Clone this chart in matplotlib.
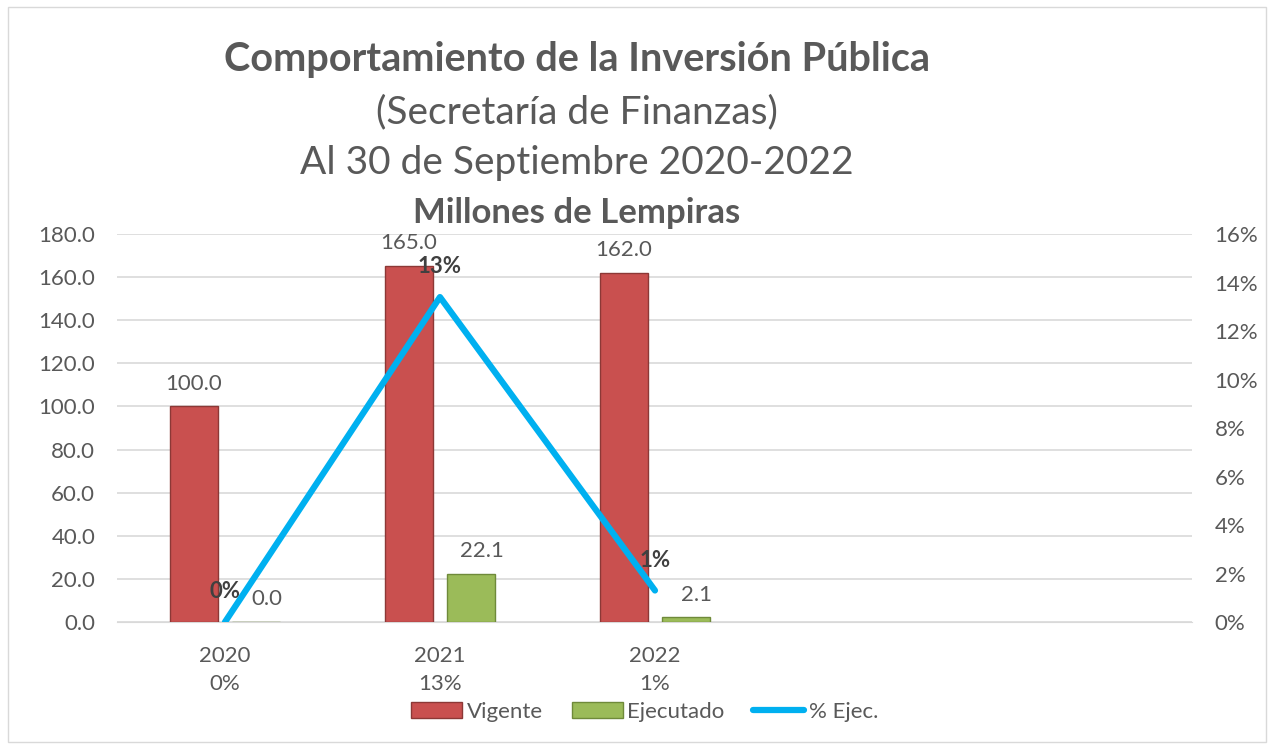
import matplotlib.pyplot as plt
import numpy as np
from matplotlib.patches import Rectangle

plt.rcParams['font.family'] = ['Lato', 'DejaVu Sans']

categories = ['2020', '2021', '2022', '', '']
pct_labels = ['0%', '13%', '1%', '', '']
vigente = [100.0, 165.0, 162.0]
ejecutado = [0.0, 22.1, 2.1]
pct_ejec = [0.0, 13.4, 1.3]

grey = '#595959'
red = '#C9504F'
green = '#9BBB59'
blue = '#00B0F0'

fig = plt.figure(figsize=(12.74, 7.46), dpi=100)
fig.patches.append(Rectangle((0.006, 0.006), 0.988, 0.985, transform=fig.transFigure,
                             fill=False, edgecolor='#d9d9d9', linewidth=1))

ax = fig.add_axes([0.0922, 0.1662, 0.8438, 0.5201])
ax2 = ax.twinx()

x = np.arange(len(vigente))
w = 0.223
off = 0.144
b1 = ax.bar(x - off, vigente, w, color=red, edgecolor='#8C3836', linewidth=1, label='Vigente', zorder=3)
b2 = ax.bar(x + off, ejecutado, w, color=green, edgecolor='#6F8A3A', linewidth=1, label='Ejecutado', zorder=3)

for xi, v in zip(x, vigente):
    ax.text(xi - off, v + 6, f'{v:.1f}', ha='center', va='bottom', fontsize=16, color=grey)
for xi, v in zip(x, ejecutado):
    ax.text(xi + off + 0.05, v + 6, f'{v:.1f}', ha='center', va='bottom', fontsize=16, color=grey)

ax.set_xlim(-0.5, 4.5)
ax.set_ylim(0, 180)
ax.set_yticks(np.arange(0, 181, 20))
ax.set_yticklabels([f'{t:.1f}' for t in np.arange(0, 181, 20)])
ax.set_xticks(range(5))
ax.set_xticklabels([f'{c}\n{p}' if c else '' for c, p in zip(categories, pct_labels)], linespacing=1.55)
ax.grid(axis='y', color='#d9d9d9', linewidth=1.2, zorder=0)
ax.set_axisbelow(True)
ax.tick_params(axis='y', length=0, labelsize=16, labelcolor=grey, pad=16)
ax.tick_params(axis='x', length=0, labelsize=16, labelcolor=grey, pad=17)
for s in ['top', 'right', 'left']:
    ax.spines[s].set_visible(False)
ax.spines['bottom'].set_color('#d9d9d9')

ln, = ax2.plot(x, pct_ejec, color=blue, linewidth=4.5, solid_capstyle='round', label='% Ejec.', zorder=4)
ax2.set_ylim(0, 16)
ax2.set_yticks(np.arange(0, 17, 2))
ax2.set_yticklabels([f'{t}%' for t in range(0, 17, 2)])
ax2.tick_params(axis='y', length=0, labelsize=16, labelcolor=grey, pad=16)
for s in ['top', 'right', 'left', 'bottom']:
    ax2.spines[s].set_visible(False)
for xi, p in zip(x, pct_ejec):
    ax2.text(xi, p + 1.25, f'{p:.0f}%', ha='center', va='center', fontsize=16,
             fontweight='bold', color='#404040')

fig.text(0.453, 0.9196, 'Comportamiento de la Inversión Pública', ha='center', va='center',
         fontsize=28.5, fontweight='bold', color=grey)
fig.text(0.453, 0.850, '(Secretaría de Finanzas)', ha='center', va='center', fontsize=28, color=grey)
fig.text(0.453, 0.7815, 'Al 30 de Septiembre 2020-2022', ha='center', va='center', fontsize=28, color=grey)
fig.text(0.453, 0.7145, 'Millones de Lempiras', ha='center', va='center', fontsize=25,
         fontweight='bold', color=grey)

fig.legend([b1, b2, ln], ['Vigente', 'Ejecutado', '% Ejec.'], loc='center', bbox_to_anchor=(0.506, 0.0456),
           ncol=3, frameon=False, fontsize=16, labelcolor=grey, handlelength=2.3, handleheight=0.7,
           handletextpad=0.2, columnspacing=1.3)

fig.savefig('out.png', dpi=100)
